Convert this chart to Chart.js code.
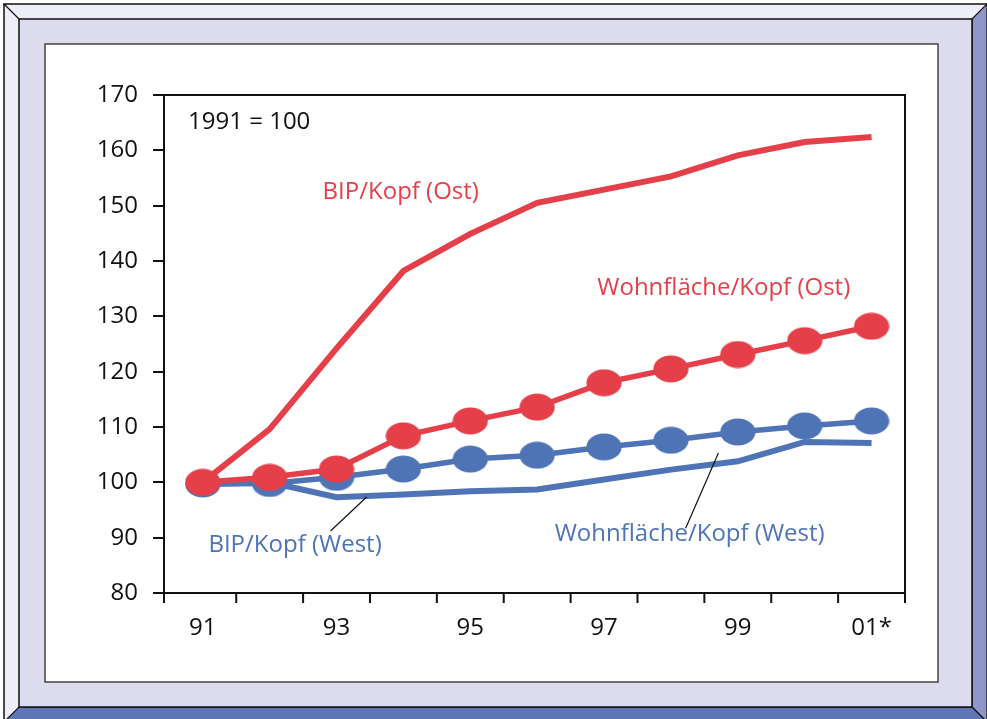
<!DOCTYPE html>
<html>
<head>
<meta charset="utf-8">
<script src="https://cdn.jsdelivr.net/npm/chart.js@4/dist/chart.umd.min.js"></script>
<style>
  html, body { margin: 0; padding: 0; background: #fff; }
  body { width: 987px; height: 719px; position: relative; overflow: hidden; }
  svg, canvas { position: absolute; left: 0; top: 0; }
</style>
</head>
<body>
<svg width="987" height="719">
  <polygon points="4,4 987,4 987,722 4,722" fill="#eeeef8" stroke="#111" stroke-width="1.5"/>
  <polygon points="987,4 972,19 972,707 987,722" fill="#8f96c9" stroke="#111" stroke-width="1.2"/>
  <polygon points="4,722 19,707 972,707 987,722" fill="#6077b5" stroke="#111" stroke-width="1.2"/>
  <line x1="4" y1="4" x2="19" y2="19" stroke="#111" stroke-width="1.2"/>
  <rect x="19" y="19" width="953" height="688" fill="#dcdcee" stroke="#111" stroke-width="1.5"/>
  <rect x="45" y="44" width="893" height="638" fill="#fff" stroke="#444" stroke-width="1.5"/>
</svg>
<canvas id="chart" width="987" height="719"></canvas>
<script>
// data, 1991 = 100
const years = [1991, 1992, 1993, 1994, 1995, 1996, 1997, 1998, 1999, 2000, 2001];
const xTickLabels = ['91', '', '93', '', '95', '', '97', '', '99', '', '01*'];
const bipOst = [100, 109.6, 124.2, 138.2, 144.9, 150.5, 152.9, 155.3, 159.1, 161.5, 162.4];
const bipWest = [99.7, 100, 97.3, 97.8, 98.4, 98.7, 100.5, 102.3, 103.8, 107.3, 107.1];
const wohnOst = [100, 100.9, 102.4, 108.4, 111.1, 113.6, 118, 120.5, 123.1, 125.6, 128.2];
const wohnWest = [99.7, 99.8, 100.9, 102.4, 104.2, 104.9, 106.4, 107.6, 109.1, 110.2, 111.1];

const RED = '#e5404a';
const BLUE = '#4e74b6';
const FONT = '"Open Sans", "Noto Sans", sans-serif';
const FSIZE = 24;

// text labels placed in data coordinates
const notes = [
    { text: '1991 = 100', x: 1990.78, y: 165.1, color: '#111', align: 'left' },
    { text: 'BIP/Kopf (Ost)', x: 1993.96, y: 152.5, color: RED, align: 'center' },
    { text: 'Wohnfläche/Kopf (Ost)', x: 1998.79, y: 135.1, color: RED, align: 'center' },
    { text: 'BIP/Kopf (West)', x: 1992.38, y: 88.7, color: BLUE, align: 'center' },
    { text: 'Wohnfläche/Kopf (West)', x: 1998.28, y: 90.7, color: BLUE, align: 'center' }
];
const leaders = [
    [1992.91, 91.2, 1993.45, 97.35],
    [1998.22, 91.7, 1998.71, 105.3]
];

function ellipse(color) {
    const c = document.createElement('canvas');
    c.width = 36; c.height = 28;
    const g = c.getContext('2d');
    g.fillStyle = color;
    g.beginPath();
    g.ellipse(18, 14, 17.6, 13.6, 0, 0, Math.PI * 2);
    g.fill();
    return c;
}

function series(vals) {
    return vals.map((v, i) => ({ x: years[i], y: v }));
}

const frame = {
    id: 'frame',
    beforeDatasetsDraw(chart) {
        const { ctx, chartArea: a, scales: { x } } = chart;
        ctx.save();
        ctx.strokeStyle = '#111';
        ctx.lineWidth = 2;
        ctx.strokeRect(a.left, a.top, a.right - a.left, a.bottom - a.top);
        const marks = [x.min, x.max];
        for (let i = 0; i < years.length - 1; i++) marks.push(years[i] + 0.5);
        ctx.beginPath();
        marks.forEach(v => {
            const px = x.getPixelForValue(v);
            ctx.moveTo(px, a.bottom);
            ctx.lineTo(px, a.bottom + 10);
        });
        ctx.stroke();
        ctx.restore();
    },
    afterDraw(chart) {
        const { ctx, scales: { x, y } } = chart;
        ctx.save();
        ctx.strokeStyle = '#111';
        ctx.lineWidth = 1.2;
        ctx.beginPath();
        leaders.forEach(l => {
            ctx.moveTo(x.getPixelForValue(l[0]), y.getPixelForValue(l[1]));
            ctx.lineTo(x.getPixelForValue(l[2]), y.getPixelForValue(l[3]));
        });
        ctx.stroke();
        ctx.font = FSIZE + 'px ' + FONT;
        ctx.textBaseline = 'middle';
        notes.forEach(n => {
            ctx.fillStyle = n.color;
            ctx.textAlign = n.align;
            ctx.fillText(n.text, x.getPixelForValue(n.x), y.getPixelForValue(n.y));
        });
        ctx.restore();
    }
};

new Chart(document.getElementById('chart').getContext('2d'), {
    type: 'line',
    data: {
        datasets: [
            {
                label: 'Wohnfläche/Kopf (Ost)',
                data: series(wohnOst),
                borderColor: RED,
                borderWidth: 5.5,
                pointStyle: ellipse(RED),
                pointRadius: 14,
                order: 0
            },
            {
                label: 'BIP/Kopf (Ost)',
                data: series(bipOst),
                borderColor: RED,
                borderWidth: 6,
                pointRadius: 0,
                order: 1
            },
            {
                label: 'Wohnfläche/Kopf (West)',
                data: series(wohnWest),
                borderColor: BLUE,
                borderWidth: 5.5,
                pointStyle: ellipse(BLUE),
                pointRadius: 14,
                order: 2
            },
            {
                label: 'BIP/Kopf (West)',
                data: series(bipWest),
                borderColor: BLUE,
                borderWidth: 6,
                pointRadius: 0,
                order: 3
            }
        ]
    },
    options: {
        responsive: false,
        animation: false,
        events: [],
        layout: { padding: { left: 0, top: 95, right: 82, bottom: 0 } },
        plugins: { legend: { display: false }, tooltip: { enabled: false } },
        scales: {
            x: {
                type: 'linear',
                min: 1990.42,
                max: 2001.5,
                afterBuildTicks: s => { s.ticks = years.map(v => ({ value: v })); },
                afterFit: s => { s.height = 126; },
                grid: { color: 'rgba(0,0,0,0)', drawOnChartArea: false, tickLength: 10 },
                border: { display: false },
                ticks: {
                    autoSkip: false,
                    maxRotation: 0,
                    padding: 11,
                    color: '#111',
                    font: { family: FONT, size: FSIZE },
                    callback: (v, i) => xTickLabels[i]
                }
            },
            y: {
                min: 80,
                max: 170,
                afterFit: s => { s.width = 164; },
                grid: { color: '#111', lineWidth: 2, drawOnChartArea: false, tickLength: 11 },
                border: { display: false },
                ticks: {
                    stepSize: 10,
                    padding: 15,
                    color: '#111',
                    font: { family: FONT, size: FSIZE }
                }
            }
        }
    },
    plugins: [frame]
});
</script>
</body>
</html>
